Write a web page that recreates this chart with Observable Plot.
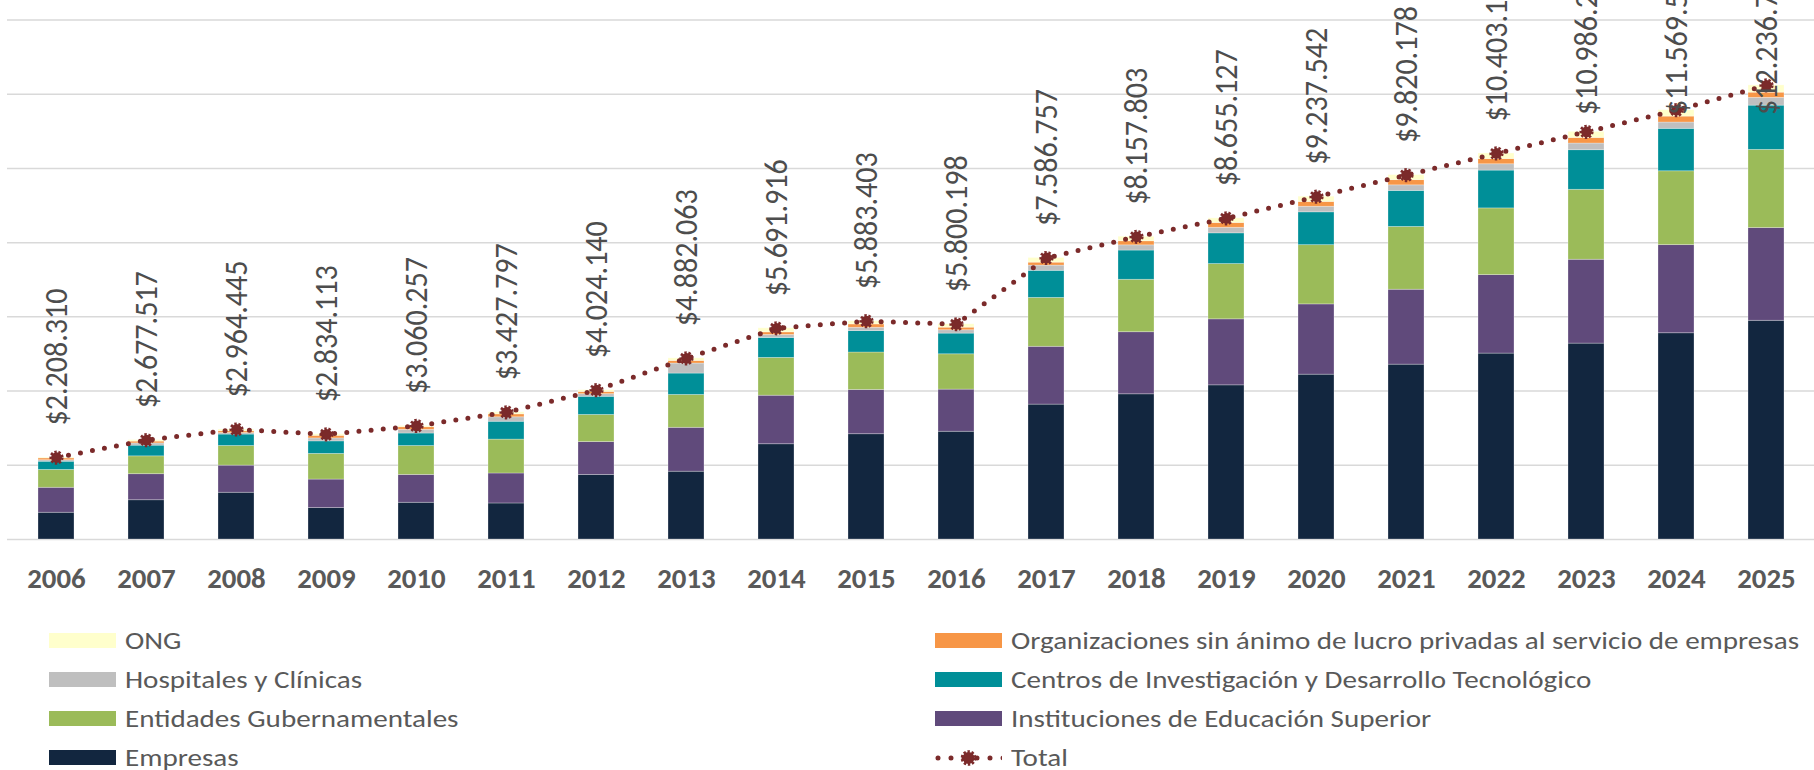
<!DOCTYPE html>
<html>
<head>
<meta charset="utf-8">
<script src="https://cdn.jsdelivr.net/npm/d3@7"></script>
<script src="https://cdn.jsdelivr.net/npm/@observablehq/plot@0.6"></script>
<style>
  html, body { margin: 0; padding: 0; background: #ffffff; }
  body { position: relative; width: 1814px; height: 770px; overflow: hidden; }
  #chart svg { display: block; }
  .lg-item { position: absolute; display: flex; align-items: center; height: 36px; white-space: nowrap; color: #595959; }
  .lg-swatch { width: 67px; height: 15px; flex: none; }
  .lg-label { margin-left: 9px; display: inline-block; transform-origin: left center; }
</style>
</head>
<body>
<div id="chart"></div>
<div id="legend"></div>
<script>
// ---------- data ----------
const years = [2006, 2007, 2008, 2009, 2010, 2011, 2012, 2013, 2014, 2015,
               2016, 2017, 2018, 2019, 2020, 2021, 2022, 2023, 2024, 2025];

// stack order: bottom -> top
const seriesNames = [
  "Empresas",
  "Instituciones de Educación Superior",
  "Entidades Gubernamentales",
  "Centros de Investigación y Desarrollo Tecnológico",
  "Hospitales y Clínicas",
  "Organizaciones sin ánimo de lucro privadas al servicio de empresas",
  "ONG"
];
const seriesColors = ["#12263f", "#604a7b", "#9bbb59", "#008f98", "#bfbfbf", "#f79646", "#ffffcc"];

const empresas       = [721000, 1058000, 1260000, 846000, 990000, 971000, 1740000, 1827000, 2567000, 2837000,
                        2904000, 3635000, 3913000, 4154000, 4442000, 4712000, 5010000, 5279000, 5558000, 5894000];
const instituciones  = [673000, 702000, 731000, 769000, 750000, 808000, 885000, 1183000, 1308000, 1192000,
                        1135000, 1558000, 1673000, 1779000, 1894000, 2019000, 2115000, 2260000, 2375000, 2500000];
const entidades      = [481000, 481000, 529000, 692000, 779000, 913000, 731000, 885000, 1019000, 1010000,
                        952000, 1317000, 1413000, 1490000, 1596000, 1692000, 1798000, 1885000, 1990000, 2106000];
const centros        = [221000, 288000, 308000, 337000, 337000, 481000, 490000, 577000, 538000, 577000,
                        558000, 731000, 788000, 827000, 885000, 971000, 1019000, 1067000, 1144000, 1192000];
const hospitales     = [40000, 60000, 40000, 80000, 100000, 120000, 70000, 270000, 80000, 90000,
                        90000, 140000, 140000, 150000, 150000, 150000, 170000, 180000, 170000, 210000];
const organizaciones = [50000, 50000, 50000, 70000, 70000, 80000, 60000, 70000, 70000, 90000,
                        70000, 80000, 110000, 130000, 130000, 140000, 140000, 150000, 160000, 140000];
const ong            = [22000, 39000, 46000, 40000, 34000, 55000, 48000, 70000, 110000, 87000,
                        91000, 126000, 121000, 125000, 141000, 136000, 151000, 165000, 173000, 195000];

const totals = [2208310, 2677517, 2964445, 2834113, 3060257, 3427797, 4024140, 4882063, 5691916, 5883403,
                5800198, 7586757, 8157803, 8655127, 9237542, 9820178, 10403140, 10986230, 11569540, 12236720];

const yTicks = [0, 2000000, 4000000, 6000000, 8000000, 10000000, 12000000, 14000000];
const totalName = "Total";
const totalColor = "#7b2a2a";

// ---------- build tables ----------
const seriesValues = [empresas, instituciones, entidades, centros, hospitales, organizaciones, ong];
const stackRows = [];
years.forEach((yr, i) => seriesNames.forEach((s, j) => stackRows.push({year: yr, series: s, value: seriesValues[j][i]})));

const locale = d3.formatLocale({decimal: ",", thousands: ".", grouping: [3], currency: ["$", ""]});
const fmt = locale.format("$,.0f");
const totalRows = years.map((yr, i) => ({year: yr, total: totals[i], label: fmt(totals[i])}));

// ---------- fonts: size by glyph height, squeeze to the reference text length ----------
const FAMILY = "Carlito, Calibri, Lato, 'Open Sans', sans-serif";
const ctx = document.createElement("canvas").getContext("2d");
function fitBox(text, refGlyph, targetW, targetH, weight) {
  ctx.font = `${weight} 100px ${FAMILY}`;
  const h = ctx.measureText(refGlyph).actualBoundingBoxAscent || 72;
  const size = 100 * targetH / h;
  ctx.font = `${weight} ${size}px ${FAMILY}`;
  const w = ctx.measureText(text).width;
  return {size, sx: targetW / w, weight};
}
function naturalWidth(text, fit) {
  ctx.font = `${fit.weight} ${fit.size}px ${FAMILY}`;
  return ctx.measureText(text).width;
}
const legendFit = fitBox(seriesNames[5], "H", 788, 15.4, 400);
const yearFit = fitBox("2006", "0", 58.5, 18.3, 700);
const labelFit = fitBox("$2.208.310", "0", 137, 21.5, 300);

// ---------- layout ----------
const W = 1814, H = 610;
const baseline = 539;
const yearCenter = 579;
const LABEL_CAP = 10580000; // Excel keeps the top labels inside the chart area

const chart = Plot.plot({
  width: W,
  height: H,
  marginLeft: 7,
  marginRight: 0,
  marginTop: 19.5,
  marginBottom: H - baseline,
  style: {fontFamily: FAMILY, background: "#ffffff", overflow: "visible"},
  x: {type: "band", domain: years, paddingInner: 0.6, paddingOuter: 0.3, axis: null},
  y: {domain: [0, 14000000], axis: null},
  color: {domain: seriesNames, range: seriesColors},
  marks: [
    Plot.ruleY(yTicks, {stroke: "#d9d9d9", strokeWidth: 1.5}),
    Plot.barY(stackRows, {x: "year", y: "value", fill: "series", order: seriesNames, stroke: "#ffffff", strokeOpacity: 0.35, strokeWidth: 0.8}),
    Plot.line(totalRows, {x: "year", y: "total", stroke: totalColor, strokeWidth: 5, strokeDasharray: "0 12.2", strokeLinecap: "round"}),
    Plot.dot(totalRows, {x: "year", y: "total", r: 5.4, fill: totalColor, stroke: totalColor, strokeWidth: 3.4, strokeDasharray: "2.2 1.6"}),
    Plot.text(totalRows, {x: "year", y: d => Math.min(d.total, LABEL_CAP), text: "label", rotate: -90, textAnchor: "start", dy: -32,
                          fontSize: labelFit.size, fontWeight: 300, fill: "#4d4d4d"}),
    Plot.text(years, {x: d => d, text: d => String(d), frameAnchor: "bottom", dy: yearCenter - baseline, lineAnchor: "middle",
                      fontSize: yearFit.size, fontWeight: 700, fill: "#595959"})
  ]
});

// condense the glyphs (textLength) so width and height both match the reference
chart.querySelectorAll("text").forEach(el => {
  const s = el.textContent;
  let fit = null;
  if (s.startsWith("$")) fit = labelFit;
  else if (/^\d{4}$/.test(s)) fit = yearFit;
  if (!fit) return;
  el.setAttribute("textLength", (naturalWidth(s, fit) * fit.sx).toFixed(2));
  el.setAttribute("lengthAdjust", "spacingAndGlyphs");
});
document.getElementById("chart").appendChild(chart);

// ---------- legend (below the svg) ----------
const legendRows = [
  [seriesNames[6], seriesNames[5]],
  [seriesNames[4], seriesNames[3]],
  [seriesNames[2], seriesNames[1]],
  [seriesNames[0], totalName]
];
const colX = [48.5, 935];
const rowY = [640, 679.3, 718.6, 757.5];
const legend = document.getElementById("legend");
legendRows.forEach((row, r) => row.forEach((name, c) => {
  const item = document.createElement("div");
  item.className = "lg-item";
  item.style.left = colX[c] + "px";
  item.style.top = (rowY[r] - 18) + "px";
  item.style.fontFamily = FAMILY;
  item.style.fontSize = legendFit.size + "px";
  let sw;
  if (name === totalName) {
    sw = document.createElementNS("http://www.w3.org/2000/svg", "svg");
    sw.setAttribute("width", 67); sw.setAttribute("height", 20);
    sw.style.flex = "none";
    sw.innerHTML = `<line x1="0" x2="67" y1="10" y2="10" stroke="${totalColor}" stroke-width="5" stroke-linecap="round" stroke-dasharray="0 13" transform="translate(3,0)"/>
      <circle cx="33.5" cy="10" r="6" fill="${totalColor}" stroke="${totalColor}" stroke-width="3.6" stroke-dasharray="2.2 1.6"/>`;
  } else {
    sw = document.createElement("div");
    sw.className = "lg-swatch";
    sw.style.background = seriesColors[seriesNames.indexOf(name)];
  }
  const lab = document.createElement("span");
  lab.className = "lg-label";
  lab.textContent = name;
  lab.style.transform = `scaleX(${legendFit.sx})`;
  item.appendChild(sw);
  item.appendChild(lab);
  legend.appendChild(item);
}));
</script>
</body>
</html>
